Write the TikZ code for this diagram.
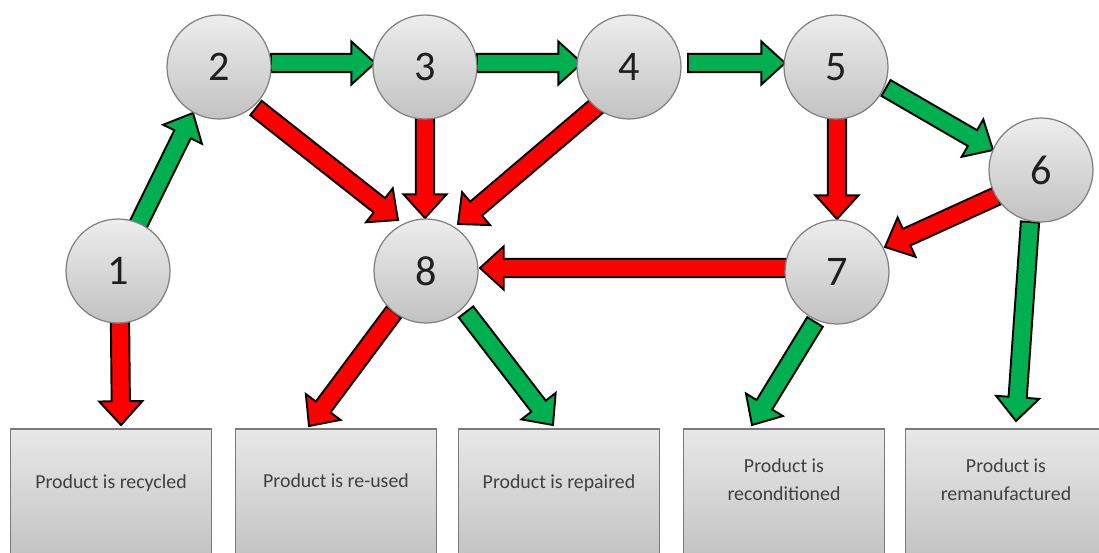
\documentclass[tikz,border=0pt]{standalone}
\usepackage{fontspec}
\setmainfont{Carlito}
\usetikzlibrary{calc}
\definecolor{agreen}{HTML}{00B050}
\definecolor{ared}{HTML}{FF0000}
\definecolor{circborder}{HTML}{808080}
\definecolor{boxborder}{HTML}{7A7A7A}
\definecolor{lbltext}{HTML}{404040}
\pgfdeclarelayer{bg}
\pgfsetlayers{bg,main}
\tikzset{
  circ/.style={circle, minimum size=2.08cm, inner sep=0pt, draw=circborder, line width=0.7pt,
    top color=white!93!black, bottom color=white!76!black,
    font=\fontsize{24}{28}\selectfont, text=black!88},
  outbox/.style={rectangle, minimum width=4.02cm, minimum height=3cm, anchor=north,
    draw=boxborder, line width=0.9pt, top color=white!91!black, bottom color=white!74!black},
  lbl/.style={font=\fontsize{11.3}{16}\selectfont, text=lbltext, align=center},
  blockline/.style={draw=black, line width=1.1pt, line join=miter}
}
\newcommand{\blockarrow}[3]{%
  \coordinate (tA) at #1;
  \coordinate (tB) at #2;
  \coordinate (tH) at ($(tB)!13.5pt!(tA)$);
  \filldraw[blockline, fill=#3]
    ($(tA)!5.2pt!90:(tB)$) -- ($(tH)!5.2pt!90:(tB)$) -- ($(tH)!12.3pt!90:(tB)$) -- (tB)
    -- ($(tH)!12.3pt!-90:(tB)$) -- ($(tH)!5.2pt!-90:(tB)$) -- ($(tA)!5.2pt!-90:(tB)$) -- cycle;
}
\begin{document}
\begin{tikzpicture}[x=0.02cm, y=-0.02cm]
\useasboundingbox (0,0) rectangle (1099,552);
% output boxes
\node[outbox] (b1) at (111,428) {};
\node[outbox] (b2) at (336,428) {};
\node[outbox] (b3) at (559,428) {};
\node[outbox] (b4) at (784,428) {};
\node[outbox] (b5) at (1006,428) {};
\node[lbl] (t1) at ($(b1.north)+(0,55)$) {Product is recycled};
\node[lbl] (t2) at ($(b2.north)+(0,53)$) {Product is re-used};
\node[lbl] (t3) at ($(b3.north)+(0,55)$) {Product is repaired};
\node[lbl] (t4) at ($(b4.north)+(0,52)$) {Product is\\reconditioned};
\node[lbl] (t5) at ($(b5.north)+(0,52)$) {Product is\\remanufactured};
% circles
\node[circ] (c1) at (118,271) {1};
\node[circ] (c2) at (219,67) {2};
\node[circ] (c3) at (425,67) {3};
\node[circ] (c4) at (629,67) {4};
\node[circ] (c5) at (836,67) {5};
\node[circ] (c6) at (1041,170) {6};
\node[circ] (c7) at (837,272) {7};
\node[circ] (c8) at (426,271) {8};
% arrows
\begin{pgfonlayer}{bg}
\blockarrow{($(c1)+(20,-46)$)}{($(c2)+(-26,46)$)}{agreen}
\blockarrow{($(c2)+(52,-4)$)}{($(c3)+(-50,-4)$)}{agreen}
\blockarrow{($(c3)+(52,-4)$)}{($(c4)+(-47,-4)$)}{agreen}
\blockarrow{($(c4)+(59,-4)$)}{($(c5)+(-51,-4)$)}{agreen}
\blockarrow{($(c5)+(50,21)$)}{($(c6)+(-48,-20)$)}{agreen}
\blockarrow{($(c2)+(37,41)$)}{($(c8)+(-28,-51)$)}{ared}
\blockarrow{($(c3)+(0,50)$)}{($(c8)+(-1,-53)$)}{ared}
\blockarrow{($(c4)+(-31,38)$)}{($(c8)+(32,-47)$)}{ared}
\blockarrow{($(c5)+(1,50)$)}{($(c7)+(0,-53)$)}{ared}
\blockarrow{($(c6)+(-44,26)$)}{($(c7)+(48,-25)$)}{ared}
\blockarrow{($(c7)+(-50,-4)$)}{($(c8)+(54,-3)$)}{ared}
\blockarrow{($(c1)+(2,50)$)}{($(b1.north)+(10,-3)$)}{ared}
\blockarrow{($(c8)+(-32,41)$)}{($(b2.north)+(-27,-2)$)}{ared}
\blockarrow{($(c8)+(40,41)$)}{($(b3.north)+(-6,-3)$)}{agreen}
\blockarrow{($(c7)+(-22,50)$)}{($(b4.north)+(-32,-3)$)}{agreen}
\blockarrow{($(c6)+(-11,52)$)}{($(b5.north)+(10,-7)$)}{agreen}
\end{pgfonlayer}
\end{tikzpicture}
\end{document}
